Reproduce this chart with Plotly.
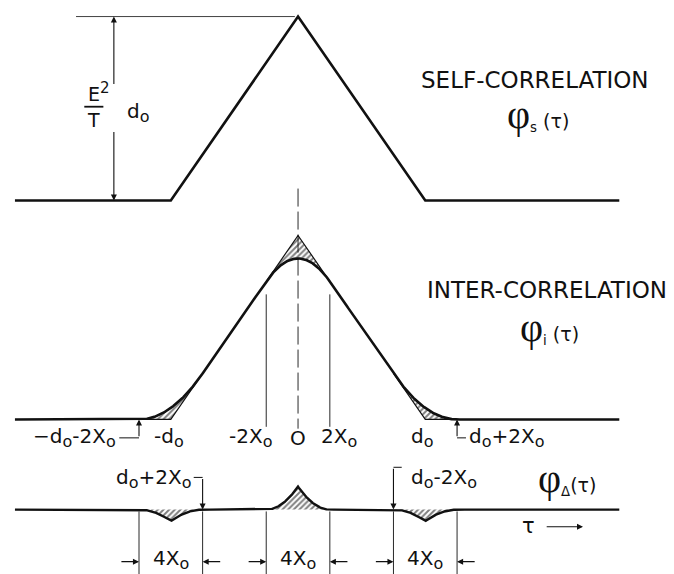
import numpy as np
import plotly.graph_objects as go

# ---- parameters of the correlation diagram (tau in arbitrary units) ----
D0 = 4.0            # d_o : half-width of the self-correlation triangle
X0 = 0.5            # X_o : the smoothing window is 4 X_o wide
PEAK = 1.0          # (E^2/T) d_o, normalised height

# vertices of the self-correlation phi_s(tau)
TRI_TAU = [-D0, 0.0, D0]
TRI_PHI = [0.0, PEAK, 0.0]

# ---- layout of the three stacked traces ----
TAU_LO, TAU_HI = -8.9, 10.1            # extent of the base lines
X_RANGE = [-9.37, 11.82]
Y_RANGE = [0.0, 3.12]
BASE_S, BASE_I, BASE_D = 2.03, 0.84, 0.35

FONT = "DejaVu Sans"
INK = "#111111"
A = 2 * X0

SUB_O = "<sub><span style='font-size:16px'>o</span></sub>"
PHI = "<span style='font-family:Liberation Serif;font-size:40px'>φ</span>"


def phi_s(t):
    return np.interp(t, TRI_TAU, TRI_PHI, left=0.0, right=0.0)


def cum_phi_s(t):
    """Running integral of phi_s from -inf to t."""
    t = np.asarray(t, float)
    return np.where(t < -D0, 0.0,
           np.where(t < 0, PEAK * (t + D0) ** 2 / (2 * D0),
           np.where(t < D0, PEAK * D0 / 2 + PEAK * (t - t ** 2 / (2 * D0)),
                    PEAK * D0)))


def phi_i(t):
    """phi_s averaged over a window of width 4 X_o."""
    return (cum_phi_s(np.asarray(t) + A) - cum_phi_s(np.asarray(t) - A)) / (2 * A)


def phi_d(t):
    return phi_s(t) - phi_i(t)


HATCH = dict(shape="/", size=4, solidity=0.5, fgcolor="black", bgcolor="white")

fig = go.Figure()

# self-correlation
xs = np.array([TAU_LO] + TRI_TAU + [TAU_HI])
fig.add_trace(go.Scatter(x=xs, y=BASE_S + phi_s(xs), mode="lines",
                         line=dict(color=INK, width=2.6), hoverinfo="skip"))

# inter-correlation: hatched gaps between triangle and smoothed curve
tp = np.linspace(-A, A, 80)[::-1]
px = np.concatenate([[-A, 0.0, A], tp])
fig.add_trace(go.Scatter(x=px, y=BASE_I + np.concatenate([phi_s(np.array([-A, 0.0, A])), phi_i(tp)]),
                         mode="lines", fill="toself", fillcolor="white", fillpattern=HATCH,
                         line=dict(color=INK, width=1.2), hoverinfo="skip"))
for s in (-1, 1):
    corner = s * np.array([D0 - A, D0, D0 + A])
    tf = s * np.linspace(D0 - A, D0 + A, 80)[::-1]
    fx = np.concatenate([corner, tf])
    fy = BASE_I + np.concatenate([phi_s(corner), phi_i(tf)])
    fig.add_trace(go.Scatter(x=fx, y=fy, mode="lines", fill="toself", fillcolor="white",
                             fillpattern=HATCH, line=dict(color=INK, width=1.2), hoverinfo="skip"))

tt = np.linspace(TAU_LO, TAU_HI, 1600)
fig.add_trace(go.Scatter(x=tt, y=BASE_I + phi_i(tt), mode="lines",
                         line=dict(color=INK, width=2.6), hoverinfo="skip"))

# difference phi_delta = phi_s - phi_i
for c in (-D0, 0.0, D0):
    td = np.linspace(c - A, c + A, 80)
    dx = np.concatenate([td, td[::-1]])
    dy = np.concatenate([BASE_D + phi_d(td), np.full(td.size, BASE_D)])
    fig.add_trace(go.Scatter(x=dx, y=dy, mode="lines", fill="toself", fillcolor="white",
                             fillpattern=HATCH, line=dict(width=0), hoverinfo="skip"))
fig.add_trace(go.Scatter(x=tt, y=BASE_D + phi_d(tt), mode="lines",
                         line=dict(color=INK, width=2.4), hoverinfo="skip"))

shapes = []


def seg(x0, y0, x1, y1, w=1.0, dash=None):
    shapes.append(dict(type="line", xref="x", yref="y", x0=x0, y0=y0, x1=x1, y1=y1,
                       line=dict(color=INK, width=w, dash=dash)))


annotations = []


def text(x, y, s, size=20, xanchor="center"):
    annotations.append(dict(x=x, y=y, xref="x", yref="y", text=s, showarrow=False,
                            xanchor=xanchor, yanchor="middle",
                            font=dict(family=FONT, size=size, color=INK)))


def arrow(x, y, ax, ay):
    annotations.append(dict(x=x, y=y, ax=ax, ay=ay, xref="x", yref="y", axref="x", ayref="y",
                            text="", showarrow=True, arrowhead=2, arrowsize=1.1,
                            arrowwidth=1.1, arrowcolor=INK, standoff=0, startstandoff=0))


# height of the self-correlation
DIM_X = -5.79
seg(-6.98, BASE_S + PEAK, -0.1, BASE_S + PEAK, w=0.8)
arrow(DIM_X, BASE_S + PEAK, DIM_X, BASE_S + 0.625)
arrow(DIM_X, BASE_S, DIM_X, BASE_S + 0.38)
text(-6.25, BASE_S + 0.588, "E<sup><span style='font-size:15px'>2</span></sup>", size=19)
seg(-6.72, BASE_S + 0.51, -6.12, BASE_S + 0.51, w=1.8)
text(-6.42, BASE_S + 0.437, "T", size=19)
text(-5.44, BASE_S + 0.478, "d" + SUB_O, size=20, xanchor="left")

text(7.45, BASE_S + 0.655, "SELF-CORRELATION", size=23)
text(7.55, BASE_S + 0.47, PHI + "<sub>s</sub> (τ)", size=19)

# centre line and the ±2X_o markers
seg(0, BASE_S + 0.065, 0, BASE_I - 0.05, w=0.9, dash="18px,5px")
for s in (-1, 1):
    seg(s * A, BASE_I + 0.68, s * A, BASE_I - 0.04, w=0.9)

text(7.83, BASE_I + 0.703, "INTER-CORRELATION", size=23)
text(7.89, BASE_I + 0.50, PHI + "<sub>i</sub> (τ)", size=19)

# labels under the inter-correlation
LY = BASE_I - 0.10
text(-5.66, LY, "−d" + SUB_O + "-2X" + SUB_O, xanchor="right")
seg(-5.62, LY, -(D0 + A), LY, w=1.0)
arrow(-(D0 + A), BASE_I, -(D0 + A), LY)
text(-D0 - 0.05, LY, "-d" + SUB_O)
text(-1.5, LY, "-2X" + SUB_O)
text(0.0, LY, "O")
text(1.3, LY, "2X" + SUB_O)
text(D0 - 0.1, LY, "d" + SUB_O)
arrow(D0 + A, BASE_I, D0 + A, LY)
seg(D0 + A, LY, D0 + A + 0.28, LY, w=1.0)
text(D0 + A + 0.32, LY, "d" + SUB_O + "+2X" + SUB_O, xanchor="left")

# labels of the difference trace
DY = BASE_D + 0.17
text(-(D0 - A) - 0.3, DY, "d" + SUB_O + "+2X" + SUB_O, xanchor="right")
seg(-(D0 - A) - 0.28, DY + 0.005, -(D0 - A), DY + 0.005, w=1.0)
arrow(-(D0 - A), BASE_D, -(D0 - A), DY + 0.005)
arrow(D0 - A, BASE_D, D0 - A, DY + 0.06)
seg(D0 - A, DY + 0.06, D0 - A + 0.26, DY + 0.06, w=1.0)
text(D0 - A + 0.5, DY, "d" + SUB_O + "-2X" + SUB_O, xanchor="left")
text(8.46, DY, PHI + "<sub>Δ</sub>(τ)", size=19)

text(7.23, BASE_D - 0.09, "τ", size=21)
arrow(8.96, BASE_D - 0.093, 7.77, BASE_D - 0.093)

# 4X_o widths of the three difference lobes
WY = 0.067
for c in (-D0, 0.0, D0):
    for e in (c - A, c + A):
        seg(e, BASE_D - 0.01, e, 0.0, w=0.9)
    arrow(c - A, WY, c - A - 0.6, WY)
    arrow(c + A, WY, c + A + 0.6, WY)
    text(c, WY + 0.01, "4X" + SUB_O)

fig.update_layout(
    width=674, height=574, autosize=False,
    margin=dict(l=0, r=0, t=0, b=0),
    paper_bgcolor="white", plot_bgcolor="white",
    showlegend=False,
    xaxis=dict(range=X_RANGE, visible=False, fixedrange=True),
    yaxis=dict(range=Y_RANGE, visible=False, fixedrange=True),
    shapes=shapes, annotations=annotations,
)

fig.write_html("out.html")
